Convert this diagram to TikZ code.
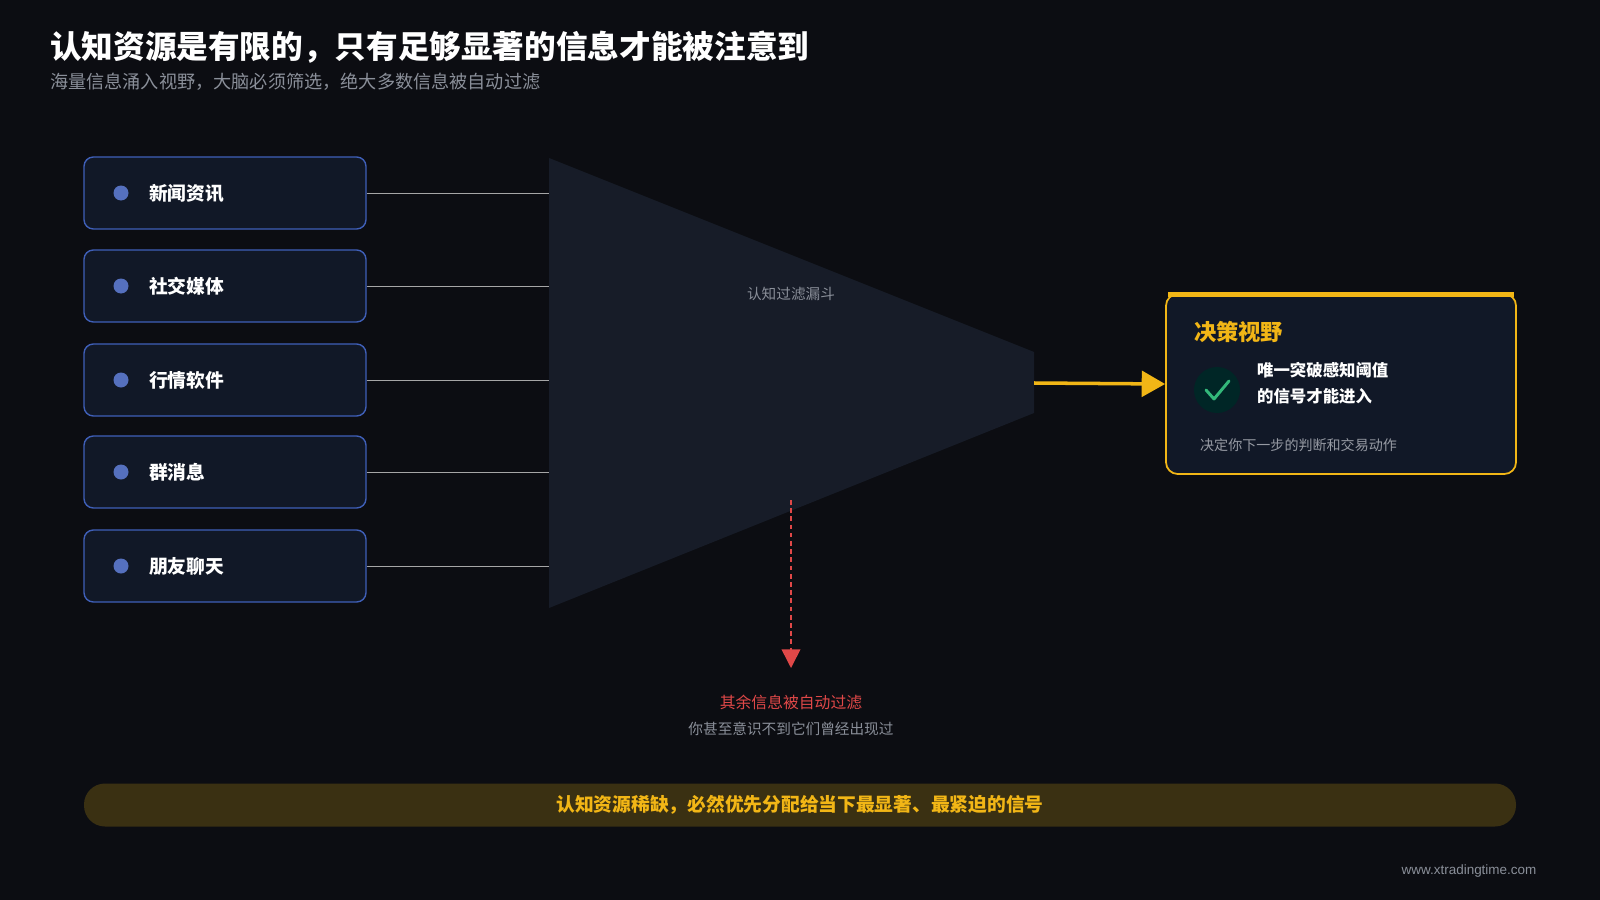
\documentclass[tikz,border=0pt]{standalone}
\usepackage{fontspec}
\setmainfont{Noto Sans CJK SC}
\newfontfamily\lat{Liberation Sans}
\usetikzlibrary{arrows.meta}
\definecolor{bg}{HTML}{0C0D12}
\definecolor{boxf}{HTML}{111827}
\definecolor{boxd}{HTML}{3F5FB8}
\definecolor{dotc}{HTML}{5570BE}
\definecolor{fun}{HTML}{171C28}
\definecolor{yel}{HTML}{F2B616}
\definecolor{redc}{HTML}{E04848}
\definecolor{greyt}{HTML}{8A8F99}
\definecolor{barf}{HTML}{3A3012}
\begin{document}
\begin{tikzpicture}[x=0.03cm,y=-0.03cm,
  src/.style={draw=boxd,fill=boxf,rounded corners=8pt,line width=1.2pt,minimum width=282*0.03cm,minimum height=72*0.03cm},
  lbl/.style={text=white,font=\fontsize{16}{18}\selectfont\bfseries,anchor=west},
  dot/.style={circle,fill=dotc,minimum size=15*0.03cm,inner sep=0},
  feed/.style={draw=gray!70,line width=0.8pt}]
\fill[bg] (0,0) rectangle (1600,900);
\useasboundingbox (0,0) rectangle (1600,900);
\node[anchor=west,text=white,font=\fontsize{27}{30}\selectfont\bfseries] (t) at (46,47) {认知资源是有限的，只有足够显著的信息才能被注意到};
\node[anchor=west,text=greyt,font=\fontsize{15.5}{17}\selectfont] (st) at (46,82) {海量信息涌入视野，大脑必须筛选，绝大多数信息被自动过滤};
\fill[fun] (549,158) -- (1034,352) -- (1034,413) -- (549,608) -- cycle;
\coordinate (fa) at (549,193);\coordinate (fb) at (549,286);\coordinate (fc) at (549,380);\coordinate (fd) at (549,472);\coordinate (fe) at (549,566);
\foreach \n/\y/\t/\c in {a/193/新闻资讯/fa,b/286/社交媒体/fb,c/380/行情软件/fc,d/472/群消息/fd,e/566/朋友聊天/fe}{
  \node[src] (s\n) at (225,\y) {};
  \node[dot] (d\n) at (121,\y) {};
  \node[lbl] (l\n) at (145,\y) {\t};
  \draw[feed] (s\n.east) -- (\c);
}
\node[text=greyt,font=\fontsize{12.5}{14}\selectfont] (fl) at (791,294) {认知过滤漏斗};
\coordinate (fo) at (1034,383);
\node[draw=yel,fill=boxf,rounded corners=10pt,line width=1.5pt,minimum width=350*0.03cm,minimum height=180*0.03cm] (dec) at (1341,384) {};
\fill[yel] (1168,292) rectangle (1514,297);
\draw[yel,line width=3pt,-{Triangle[length=20pt,width=22pt]}] (fo) -- (dec.west);
\node[anchor=west,text=yel,font=\fontsize{19}{21}\selectfont\bfseries] (dt) at (1190,332) {决策视野};
\node[circle,fill=teal!30!black,minimum size=46*0.03cm] (ck) at (1217,390) {};
\draw[teal!70!green!80!white,line width=2.5pt,line cap=round,line join=round] (1206,390) -- (1214,399) -- (1229,381);
\node[anchor=west,text=white,align=left,font=\fontsize{14}{22}\selectfont\bfseries] (dx) at (1253,383) {唯一突破感知阈值\\的信号才能进入};
\node[anchor=west,text=greyt!90!white,font=\fontsize{12}{14}\selectfont] (df) at (1196,445) {决定你下一步的判断和交易动作};
\coordinate (rs) at (791,500);
\node[text=redc,font=\fontsize{13.5}{15}\selectfont] (r1) at (791,702) {其余信息被自动过滤};
\node[text=greyt,font=\fontsize{12.5}{14}\selectfont] (r2) at (791,729) {你甚至意识不到它们曾经出现过};
\draw[redc,line width=1.3pt,dash pattern=on 4pt off 3pt,-{Triangle[length=16pt,width=16pt]}] (rs) -- (791,668);
\node[fill=barf,rounded corners=21*0.03cm,minimum width=1432*0.03cm,minimum height=43*0.03cm,text=yel,font=\fontsize{16}{18}\selectfont\bfseries] (bar) at (800,805) {认知资源稀缺，必然优先分配给当下最显著、最紧迫的信号};
\node[text=greyt,font=\lat\fontsize{11.5}{13}\selectfont] (wm) at (1469,871) {www.xtradingtime.com};
\end{tikzpicture}
\end{document}
